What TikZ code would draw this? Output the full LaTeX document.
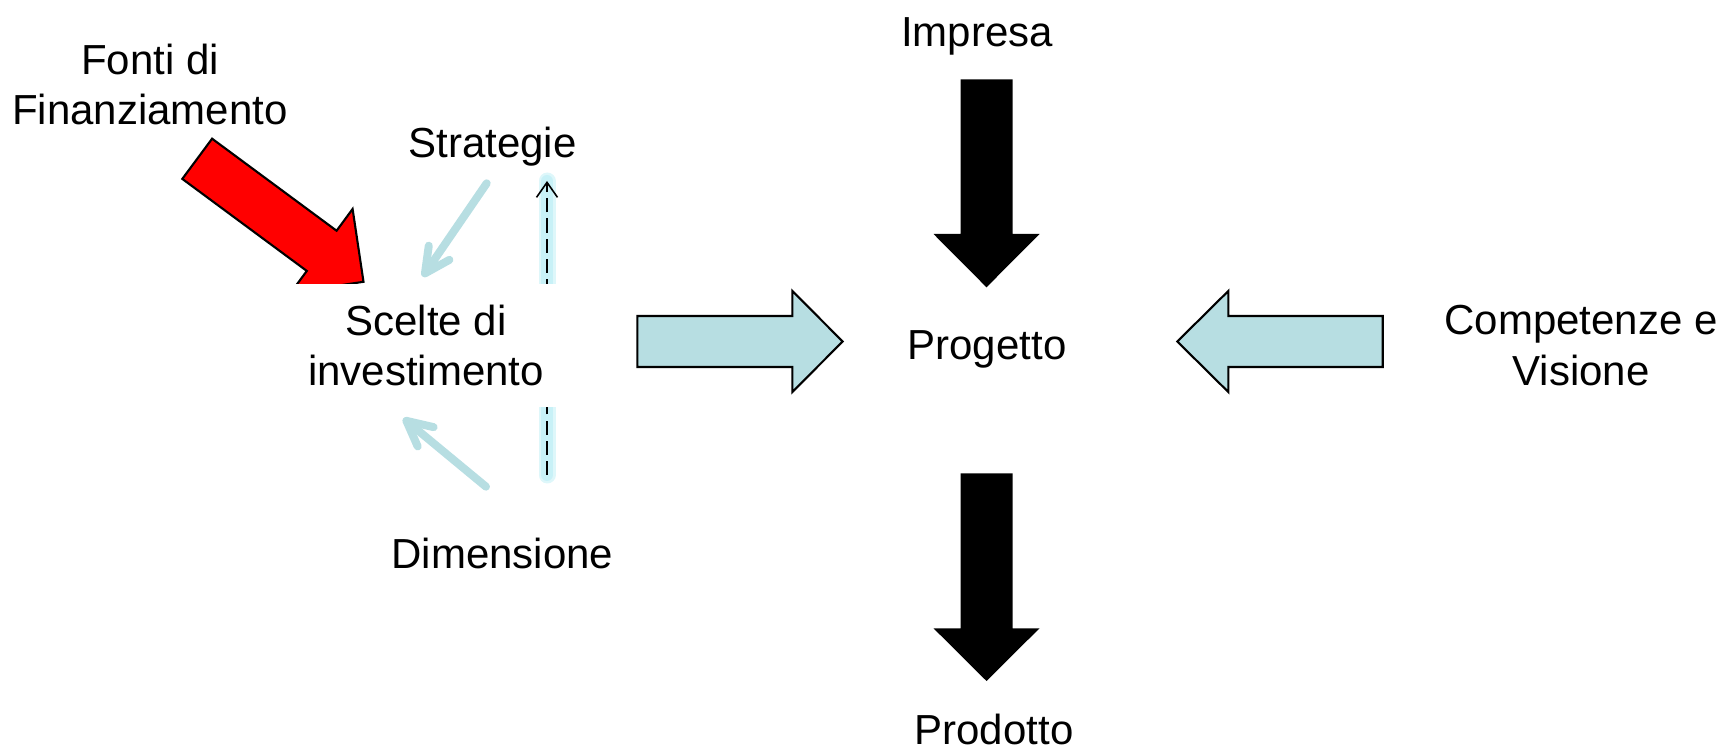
\documentclass[tikz,border=0pt]{standalone}
\usepackage{fontspec}
\setmainfont{Liberation Sans}
\usetikzlibrary{arrows.meta}

\definecolor{paleblue}{RGB}{183,222,226}
\definecolor{glowblue}{RGB}{200,241,247}

\begin{document}
\begin{tikzpicture}[x=0.02cm, y=-0.02cm]

\tikzstyle{word} = [inner sep=0pt, align=center, font=\fontsize{23.9}{29}\selectfont]
\tikzstyle{bigarrow} = [draw, line width=1.2pt, fill=paleblue]
\tikzstyle{redarrow} = [draw, line width=1.2pt, fill=red]
\tikzstyle{fatarrow} = [fill=black]
\tikzstyle{soft} = [draw=paleblue, line width=0.16cm, line cap=round,
-{Straight Barb[length=0.5cm, width=0.5cm, round]}]
\tikzstyle{glow} = [draw=glowblue, line width=0.34cm, line cap=round, opacity=0.6]
\tikzstyle{core} = [draw=glowblue, line width=0.24cm, line cap=round]
\tikzstyle{link} = [draw, line width=0.9pt, dash pattern=on 8pt off 3.5pt,
-{Straight Barb[length=0.3cm, width=0.42cm]}]

\useasboundingbox (0,0) rectangle (1724,749);

\node [word] (fonti) at (150,84.5) {Fonti di\\Finanziamento};
\node [word, anchor=base] (impresa) at (977,46.7) {Impresa};
\node [word, anchor=base] (strat) at (492.5,157.7) {Strategie};
\node [word, anchor=base] (prog) at (987,360) {Progetto};
\node [word] (comp) at (1581,345.5) {Competenze e\\Visione};
\node [word, anchor=base] (dim) at (502.5,568) {Dimensione};
\node [word, anchor=base] (prod) at (994,744) {Prodotto};

\coordinate (strat-out) at (486.7,183.3);
\coordinate (strat-in) at (547,181);
\coordinate (dim-out) at (486,486.7);
\coordinate (dim-up) at (547,475);
\coordinate (scelte-top) at (422.7,276.7);
\coordinate (scelte-bot) at (403.3,418.3);

\path [redarrow] (212.1,138.7) -- (336.6,230.75) -- (352.6,209) -- (363.5,281.8)
  -- (290.8,292.65) -- (306.8,270.95) -- (182.3,178.9) -- cycle;

\path [glow] (dim-up) -- (strat-in);
\path [core] (dim-up) -- (strat-in);
\path [link] (dim-up) -- (strat-in);

\node [word, fill=white, minimum width=5.9cm, minimum height=2.46cm] (scelte)
  at (426,345.5) {Scelte di\\investimento};

\path [soft] (strat-out) -- (scelte-top);
\path [soft] (dim-out) -- (scelte-bot);

\path [bigarrow] (637.3,316) -- (792.3,316) -- (792.3,291) -- (842.7,341.5)
  -- (792.3,392) -- (792.3,367) -- (637.3,367) -- cycle;
\path [bigarrow] (1382.7,316) -- (1228.3,316) -- (1228.3,291) -- (1177.3,341.5)
  -- (1228.3,392) -- (1228.3,367) -- (1382.7,367) -- cycle;

\path [fatarrow] (960.5,79.3) -- (1012.5,79.3) -- (1012.5,234) -- (1039.5,234)
  -- (986.5,287.3) -- (933.5,234) -- (960.5,234) -- cycle;
\path [fatarrow] (960.5,473.3) -- (1012.5,473.3) -- (1012.5,628.3) -- (1039.5,628.3)
  -- (986.5,681) -- (933.5,628.3) -- (960.5,628.3) -- cycle;
\end{tikzpicture}
\end{document}
